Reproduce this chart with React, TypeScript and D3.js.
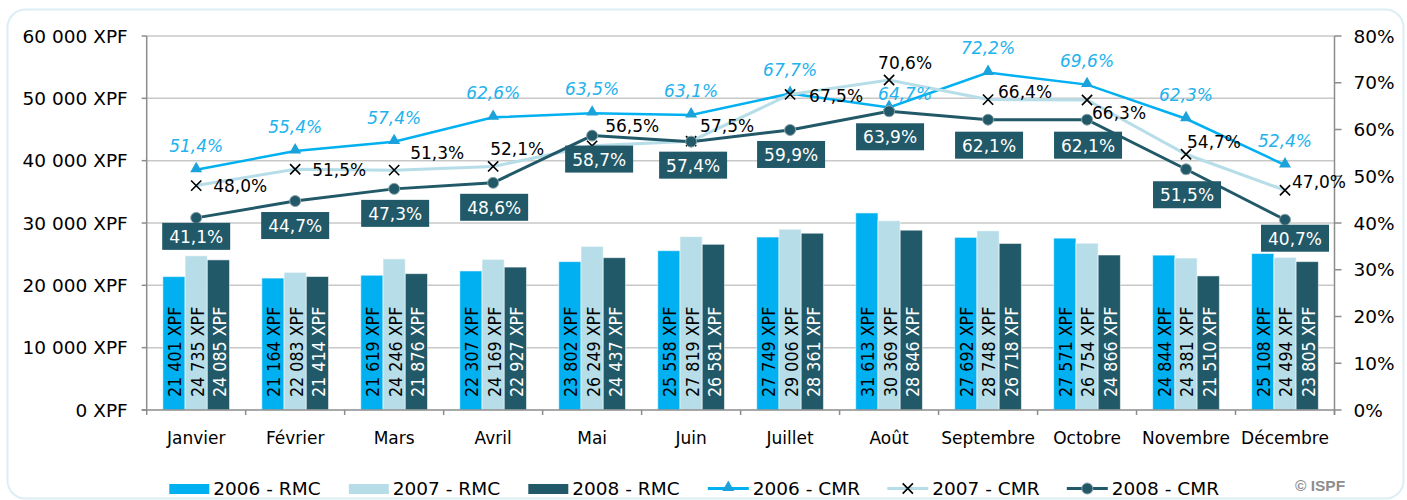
import { useEffect, useRef } from 'react';
import * as d3 from 'd3';

const months = ['Janvier', 'Février', 'Mars', 'Avril', 'Mai', 'Juin', 'Juillet', 'Août', 'Septembre', 'Octobre', 'Novembre', 'Décembre'];

// RMC (XPF)
const rmc2006 = [21401, 21164, 21619, 22307, 23802, 25558, 27749, 31613, 27692, 27571, 24844, 25108];
const rmc2007 = [24735, 22083, 24246, 24169, 26249, 27819, 29006, 30369, 28748, 26754, 24381, 24494];
const rmc2008 = [24085, 21414, 21876, 22927, 24437, 26581, 28361, 28846, 26718, 24866, 21510, 23805];

// CMR (%)
const cmr2006 = [51.4, 55.4, 57.4, 62.6, 63.5, 63.1, 67.7, 64.7, 72.2, 69.6, 62.3, 52.4];
const cmr2007 = [48.0, 51.5, 51.3, 52.1, 56.5, 57.5, 67.5, 70.6, 66.4, 66.3, 54.7, 47.0];
const cmr2008 = [41.1, 44.7, 47.3, 48.6, 58.7, 57.4, 59.9, 63.9, 62.1, 62.1, 51.5, 40.7];

const leftTicks = [0, 10000, 20000, 30000, 40000, 50000, 60000];
const rightTicks = [0, 10, 20, 30, 40, 50, 60, 70, 80];

const barSeries = ['2006 - RMC', '2007 - RMC', '2008 - RMC'];
const lineSeries = ['2006 - CMR', '2007 - CMR', '2008 - CMR'];

// manual label placement (dx, dy) as in the original chart
const label2006Offsets = [[0, -18], [0, -18], [0, -18], [0, -18], [0, -18], [0, -18], [0, -18], [16, -8], [0, -18], [0, -18], [0, -18], [0, -18]];
const label2007Offsets = [[17, 0], [17, 1], [16, -17], [-3, -17], [13, -20], [9, -15], [19, 2], [-11, -17], [10, -8], [5, 13], [1, -12], [7, -8]];
const label2008Offsets = [[0, 5], [0, 11], [1, 11], [1, 11], [7, 10], [2, 10], [1, 11], [1, 12], [1, 12], [1, 12], [1, 12], [10, 5]];

const C06 = '#00B0F0';
const C07 = '#B7DEE8';
const C08 = '#215968';
const FONT = "'DejaVu Sans', Verdana, sans-serif";

export default function App() {
  const svgRef = useRef<SVGSVGElement>(null);

  useEffect(() => {
    if (!svgRef.current) return;
    const width = 1407;
    const height = 500;
    const plot = { left: 146.7, right: 1334.5, top: 36, bottom: 410 };

    d3.select(svgRef.current).selectAll('*').remove();
    const svg = d3
      .select(svgRef.current)
      .attr('width', width)
      .attr('height', height)
      .attr('viewBox', `0 0 ${width} ${height}`)
      .style('font-family', FONT);

    const fr = d3.formatLocale({ decimal: ',', thousands: ' ', grouping: [3], currency: ['', ''] });
    const fmtInt = fr.format(',d');
    const fmtPct = (v: number) => fr.format('.1f')(v) + '%';

    // frame
    svg
      .append('rect')
      .attr('x', 7.5)
      .attr('y', 9.5)
      .attr('width', 1396)
      .attr('height', 489)
      .attr('rx', 18)
      .attr('fill', 'none')
      .attr('stroke', '#DCEEF4')
      .attr('stroke-width', 2);

    const x = d3.scaleBand().domain(months).range([plot.left, plot.right]).padding(0);
    const bw = x.bandwidth();
    const xs = d3.scaleBand().domain(barSeries).range([bw * 0.163, bw * 0.837]).padding(0);
    const yL = d3.scaleLinear().domain([0, 60000]).range([plot.bottom, plot.top]);
    const yR = d3.scaleLinear().domain([0, 80]).range([plot.bottom, plot.top]);

    // gridlines
    svg
      .append('g')
      .selectAll('line')
      .data(leftTicks.filter((d) => d > 0))
      .enter()
      .append('line')
      .attr('x1', plot.left)
      .attr('x2', plot.right)
      .attr('y1', (d) => yL(d))
      .attr('y2', (d) => yL(d))
      .attr('stroke', '#C8C8C8')
      .attr('stroke-width', 1.5);

    // bars
    const barData = [rmc2006, rmc2007, rmc2008];
    const barColors = [C06, C07, C08];
    const labelColors = ['#000', '#000', '#fff'];
    barData.forEach((vals, si) => {
      const g = svg.append('g');
      g.selectAll('rect')
        .data(vals)
        .enter()
        .append('rect')
        .attr('x', (_, i) => (x(months[i]) as number) + (xs(barSeries[si]) as number))
        .attr('width', xs.bandwidth())
        .attr('y', (d) => yL(d))
        .attr('height', (d) => plot.bottom - yL(d))
        .attr('fill', barColors[si])
        .attr('stroke', 'rgba(255,255,255,0.55)')
        .attr('stroke-width', 1);

      g.selectAll('text')
        .data(vals)
        .enter()
        .append('text')
        .attr('transform', (_, i) => {
          const cx = (x(months[i]) as number) + (xs(barSeries[si]) as number) + xs.bandwidth() / 2 + 1;
          return `translate(${cx},${plot.bottom - 13}) rotate(-90) scale(0.86,1)`;
        })
        .attr('dominant-baseline', 'central')
        .attr('font-size', 18.5)
        .attr('fill', labelColors[si])
        .text((d) => `${fmtInt(d)} XPF`);
    });

    // axes
    const axisColor = '#8C8C8C';
    const axes = svg.append('g');
    axes
      .append('line')
      .attr('x1', plot.left)
      .attr('x2', plot.left)
      .attr('y1', plot.top)
      .attr('y2', plot.bottom)
      .attr('stroke', axisColor)
      .attr('stroke-width', 1.5);
    axes
      .append('line')
      .attr('x1', plot.right)
      .attr('x2', plot.right)
      .attr('y1', plot.top)
      .attr('y2', plot.bottom + 5)
      .attr('stroke', axisColor)
      .attr('stroke-width', 1.5);
    axes
      .selectAll('line.lt')
      .data(leftTicks)
      .enter()
      .append('line')
      .attr('x1', plot.left - 5)
      .attr('x2', plot.left)
      .attr('y1', (d) => yL(d))
      .attr('y2', (d) => yL(d))
      .attr('stroke', axisColor)
      .attr('stroke-width', 1.5);
    axes
      .selectAll('text.lt')
      .data(leftTicks)
      .enter()
      .append('text')
      .attr('x', plot.left - 19)
      .attr('y', (d) => yL(d))
      .attr('dominant-baseline', 'central')
      .attr('text-anchor', 'end')
      .attr('font-size', 18.5)
      .attr('fill', '#000')
      .text((d) => `${fmtInt(d)} XPF`);
    axes
      .selectAll('line.rt')
      .data(rightTicks)
      .enter()
      .append('line')
      .attr('x1', plot.right)
      .attr('x2', plot.right + 7)
      .attr('y1', (d) => yR(d))
      .attr('y2', (d) => yR(d))
      .attr('stroke', axisColor)
      .attr('stroke-width', 1.5);
    axes
      .selectAll('text.rt')
      .data(rightTicks)
      .enter()
      .append('text')
      .attr('x', plot.right + 19)
      .attr('y', (d) => yR(d))
      .attr('dominant-baseline', 'central')
      .attr('font-size', 18.5)
      .attr('fill', '#000')
      .text((d) => `${d}%`);

    const bottom = svg.append('g');
    bottom
      .append('line')
      .attr('x1', plot.left - 5)
      .attr('x2', plot.right)
      .attr('y1', plot.bottom)
      .attr('y2', plot.bottom)
      .attr('stroke', axisColor)
      .attr('stroke-width', 1.5);
    bottom
      .selectAll('line.tick')
      .data(d3.range(months.length + 1))
      .enter()
      .append('line')
      .attr('class', 'tick')
      .attr('x1', (i) => plot.left + i * bw)
      .attr('x2', (i) => plot.left + i * bw)
      .attr('y1', plot.bottom)
      .attr('y2', plot.bottom + 5)
      .attr('stroke', axisColor)
      .attr('stroke-width', 1.5);
    bottom
      .selectAll('text')
      .data(months)
      .enter()
      .append('text')
      .attr('x', (d) => (x(d) as number) + bw / 2)
      .attr('y', 444)
      .attr('text-anchor', 'middle')
      .attr('font-size', 17)
      .attr('fill', '#000')
      .text((d) => d);

    const cx = (i: number) => (x(months[i]) as number) + bw / 2;

    // lines
    const line = d3
      .line<number>()
      .x((_, i) => cx(i))
      .y((d) => yR(d));

    svg.append('path').datum(cmr2006).attr('d', line).attr('fill', 'none').attr('stroke', C06).attr('stroke-width', 2.5);
    svg
      .append('g')
      .selectAll('path')
      .data(cmr2006)
      .enter()
      .append('path')
      .attr('d', d3.symbol().type(d3.symbolTriangle).size(62)())
      .attr('transform', (d, i) => `translate(${cx(i)},${yR(d) - 1})`)
      .attr('fill', '#1CA2DA');

    svg.append('path').datum(cmr2007).attr('d', line).attr('fill', 'none').attr('stroke', C07).attr('stroke-width', 3);
    svg
      .append('g')
      .selectAll('path')
      .data(cmr2007)
      .enter()
      .append('path')
      .attr('d', d3.symbol().type(d3.symbolX).size(70)())
      .attr('transform', (d, i) => `translate(${cx(i)},${yR(d)})`)
      .attr('fill', 'none')
      .attr('stroke', '#000')
      .attr('stroke-width', 1.6);

    svg.append('path').datum(cmr2008).attr('d', line).attr('fill', 'none').attr('stroke', C08).attr('stroke-width', 3);
    svg
      .append('g')
      .selectAll('circle')
      .data(cmr2008)
      .enter()
      .append('circle')
      .attr('cx', (_, i) => cx(i))
      .attr('cy', (d) => yR(d))
      .attr('r', 5.5)
      .attr('fill', C08)
      .attr('stroke', '#8FA3AA')
      .attr('stroke-width', 1);

    // labels 2006 (italic, above)
    svg
      .append('g')
      .selectAll('text')
      .data(cmr2006)
      .enter()
      .append('text')
      .attr('x', (_, i) => cx(i) + label2006Offsets[i][0])
      .attr('y', (d, i) => yR(d) + label2006Offsets[i][1])
      .attr('text-anchor', 'middle')
      .attr('font-size', 17)
      .attr('font-style', 'italic')
      .attr('fill', '#22B2EE')
      .text((d) => fmtPct(d));

    // labels 2007
    svg
      .append('g')
      .selectAll('text')
      .data(cmr2007)
      .enter()
      .append('text')
      .attr('x', (_, i) => cx(i) + label2007Offsets[i][0])
      .attr('y', (d, i) => yR(d) + label2007Offsets[i][1])
      .attr('dominant-baseline', 'central')
      .attr('font-size', 17)
      .attr('fill', '#000')
      .text((d) => fmtPct(d));

    // labels 2008 (boxes)
    const boxes = svg
      .append('g')
      .selectAll('g')
      .data(cmr2008)
      .enter()
      .append('g')
      .attr('transform', (d, i) => `translate(${cx(i) + label2008Offsets[i][0]},${yR(d) + label2008Offsets[i][1]})`);
    boxes.append('rect').attr('x', -34).attr('y', 0).attr('width', 68).attr('height', 27).attr('fill', C08);
    boxes
      .append('text')
      .attr('x', 0)
      .attr('y', 14)
      .attr('dominant-baseline', 'central')
      .attr('text-anchor', 'middle')
      .attr('font-size', 17)
      .attr('fill', '#fff')
      .text((d) => fmtPct(d));

    // legend
    const legendX = (i: number) => 169.3 + i * 179.5;
    const legend = svg.append('g');
    barSeries.forEach((name, i) => {
      legend.append('rect').attr('x', legendX(i)).attr('y', 484).attr('width', 40).attr('height', 10).attr('fill', barColors[i]);
      legend.append('text').attr('x', legendX(i) + 44).attr('y', 495).attr('font-size', 18.5).attr('fill', '#000').text(name);
    });
    const lineColors = [C06, C07, C08];
    lineSeries.forEach((name, j) => {
      const i = j + 3;
      const lx = legendX(i);
      legend
        .append('line')
        .attr('x1', lx)
        .attr('x2', lx + 41)
        .attr('y1', 488.5)
        .attr('y2', 488.5)
        .attr('stroke', lineColors[j])
        .attr('stroke-width', 3);
      if (j === 0) {
        legend
          .append('path')
          .attr('d', d3.symbol().type(d3.symbolTriangle).size(62)())
          .attr('transform', `translate(${lx + 20.5},487.5)`)
          .attr('fill', '#1CA2DA');
      } else if (j === 1) {
        legend
          .append('path')
          .attr('d', d3.symbol().type(d3.symbolX).size(70)())
          .attr('transform', `translate(${lx + 20.5},488.5)`)
          .attr('fill', 'none')
          .attr('stroke', '#000')
          .attr('stroke-width', 1.6);
      } else {
        legend
          .append('circle')
          .attr('cx', lx + 20.5)
          .attr('cy', 488.5)
          .attr('r', 5.5)
          .attr('fill', C08)
          .attr('stroke', '#8FA3AA');
      }
      legend.append('text').attr('x', lx + 45).attr('y', 495).attr('font-size', 18.5).attr('fill', '#000').text(name);
    });

    svg
      .append('text')
      .attr('x', 1295)
      .attr('y', 490.5)
      .attr('font-family', "'Liberation Sans', Arial, sans-serif")
      .attr('font-weight', 'bold')
      .attr('font-size', 15.5)
      .attr('fill', '#8E8E8E')
      .text('© ISPF');
  }, []);

  return (
    <div style={{ position: 'absolute', left: 0, top: 0, background: '#fff' }}>
      <svg ref={svgRef} />
    </div>
  );
}
